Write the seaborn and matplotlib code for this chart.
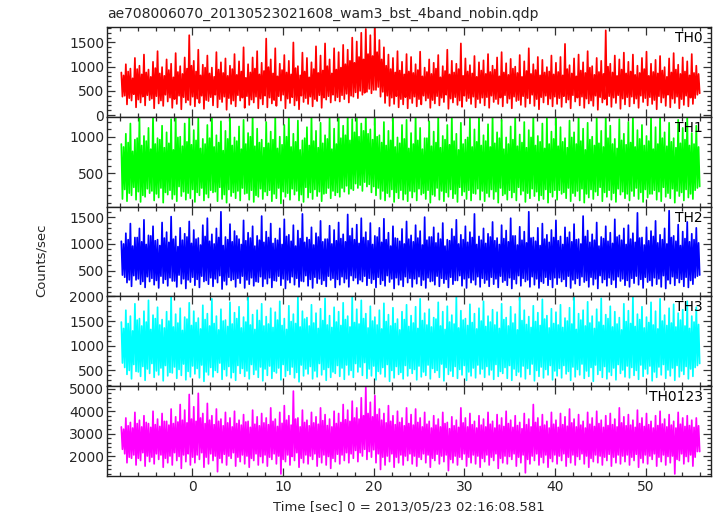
import numpy as np
import pandas as pd
import matplotlib
matplotlib.use("Agg")
import matplotlib.pyplot as plt
from matplotlib.ticker import MultipleLocator
import seaborn as sns

title = "ae708006070_20130523021608_wam3_bst_4band_nobin.qdp"
xlabel = "Time [sec] 0 = 2013/05/23 02:16:08.581"
ylabel = "Counts/sec"
bands = ["TH0", "TH1", "TH2", "TH3", "TH0123"]
colors = ["#ff0000", "#00ff00", "#0000ff", "#00ffff", "#ff00ff"]
t_start = -7.82
t_step = 0.1248

# per 0.5 s: outer high, outer low, inner high, inner low samples of each light curve
th0_hi = [880, 1050, 960, 1180, 1020, 1250, 940, 1100, 1320, 990, 1150, 1060, 1280, 1010, 1190, 1650,
          1120, 1350, 1040, 1230, 980, 1300, 1090, 1170, 1020, 1260, 1110, 1400, 1050, 1190, 1320, 1080,
          1580, 1150, 1380, 1060, 1240, 1120, 1500, 1010, 1290, 1180, 1090, 1420, 1230, 1480, 1150, 1380,
          1300, 1450, 1350, 1600, 1520, 1700, 1780, 1650, 1810, 1550, 1400, 1250, 1180, 1320, 1100, 1260,
          1200, 1050, 1310, 980, 1150, 1080, 1240, 1010, 1350, 1120, 1060, 1480, 1170, 1030, 1220, 1090,
          1130, 1260, 1020, 1190, 1300, 1070, 1160, 1000, 1240, 1110, 1380, 1050, 1200, 1140, 990, 1230,
          1080, 1200, 1470, 1030, 1170, 1250, 1090, 1320, 1010, 1180, 1120, 1750, 1060, 1230, 1150, 1290,
          1100, 1250, 1020, 1180, 1310, 1060, 1140, 1220, 990, 1170, 1280, 1040, 1190, 1110, 1260, 1020]
th0_lo = [380, 220, 300, 160, 260, 200, 310, 140, 240, 190, 280, 150, 230, 120, 260, 210,
          180, 250, 130, 290, 200, 160, 270, 110, 230, 180, 300, 150, 210, 260, 140, 220,
          160, 240, 190, 300, 140, 250, 200, 120, 270, 230, 180, 290, 150, 320, 260, 300,
          280, 330, 260, 380, 350, 420, 480, 450, 520, 380, 250, 190, 230, 160, 220, 140,
          250, 180, 220, 300, 150, 240, 200, 270, 130, 260, 210, 170, 290, 230, 160, 250,
          200, 150, 270, 230, 180, 250, 140, 290, 210, 170, 240, 190, 120, 260, 220, 180,
          230, 170, 260, 140, 280, 200, 150, 240, 190, 110, 260, 210, 170, 250, 130, 220,
          180, 240, 150, 270, 200, 230, 120, 260, 190, 160, 250, 140, 210, 180, 230, 420]
th0_hi2 = [820, 900, 760, 950, 840, 880, 790, 970, 860, 810, 930, 780, 890, 850, 960, 1020,
           900, 820, 980, 860, 790, 940, 870, 810, 950, 830, 900, 770, 880, 960, 840, 910,
           990, 860, 800, 930, 880, 840, 970, 820, 900, 780, 950, 870, 920, 1010, 860, 940,
           980, 1050, 1120, 1080, 1200, 1150, 1260, 1220, 1300, 1150, 1020, 950, 880, 920, 840, 900,
           870, 930, 800, 890, 850, 960, 780, 910, 840, 880, 950, 810, 900, 860, 790, 920,
           850, 890, 940, 800, 880, 830, 960, 870, 790, 910, 850, 930, 820, 880, 900, 840,
           890, 820, 950, 860, 800, 920, 870, 980, 830, 890, 850, 1000, 880, 810, 940, 860,
           900, 830, 870, 950, 810, 890, 860, 920, 790, 880, 940, 850, 900, 820, 870, 850]
th0_lo2 = [400, 350, 430, 320, 380, 410, 340, 390, 300, 420, 360, 330, 400, 370, 310, 380,
           340, 400, 310, 370, 420, 330, 380, 350, 300, 410, 360, 390, 320, 380, 340, 400,
           360, 310, 390, 420, 340, 370, 300, 400, 350, 380, 330, 410, 360, 390, 420, 370,
           410, 440, 400, 470, 500, 460, 540, 520, 580, 480, 400, 360, 390, 330, 370, 340,
           380, 330, 400, 350, 310, 390, 360, 420, 340, 370, 300, 400, 350, 380, 330, 360,
           370, 400, 330, 360, 410, 340, 380, 310, 390, 350, 420, 330, 370, 400, 340, 380,
           350, 390, 320, 410, 360, 380, 340, 300, 400, 370, 330, 390, 360, 410, 340, 370,
           380, 340, 400, 350, 370, 310, 390, 360, 420, 340, 380, 330, 400, 360, 350, 450]

th1_hi = [900, 1040, 1180, 960, 1270, 1010, 1120, 1300, 980, 1150, 1060, 1240, 1290, 1000, 1180, 1300,
          1090, 1250, 970, 1160, 1300, 1020, 1210, 1080, 1300, 990, 1140, 1230, 1050, 1300, 1110, 960,
          1200, 1070, 1280, 1000, 1160, 1300, 1040, 1220, 950, 1130, 1300, 1080, 1190, 1020, 1260, 1110,
          1300, 1150, 1300, 1240, 1300, 1180, 1300, 1100, 1270, 1020, 1200, 1080, 1300, 990, 1160, 1230,
          1050, 1300, 1120, 980, 1210, 1070, 1290, 1010, 1160, 1300, 1040, 1190, 960, 1250, 1100, 1300,
          1020, 1170, 1300, 1060, 1230, 990, 1140, 1280, 1030, 1200, 1090, 1300, 1010, 1180, 1260, 1070,
          1300, 1130, 980, 1220, 1060, 1300, 1110, 1190, 1000, 1270, 1080, 1300, 1150, 970, 1240, 1040,
          1200, 1300, 1090, 1160, 1010, 1250, 1130, 1300, 1060, 1190, 980, 1230, 1120, 1300, 1050, 1150]
th1_lo = [150, 120, 200, 140, 110, 180, 230, 130, 170, 100, 210, 150, 120, 190, 140, 160,
          110, 200, 130, 170, 240, 120, 150, 100, 190, 160, 130, 220, 140, 110, 180, 150,
          200, 120, 160, 90, 180, 140, 210, 130, 110, 170, 150, 190, 120, 230, 160, 200,
          180, 250, 220, 270, 300, 260, 320, 240, 200, 150, 130, 180, 110, 160, 140, 120,
          170, 130, 210, 150, 100, 190, 140, 120, 180, 160, 110, 200, 150, 130, 220, 140,
          120, 180, 150, 100, 200, 140, 170, 130, 210, 110, 160, 190, 130, 150, 100, 180,
          140, 220, 160, 120, 190, 130, 100, 170, 150, 200, 120, 180, 140, 110, 210, 160,
          130, 190, 150, 110, 170, 220, 140, 120, 180, 160, 100, 190, 130, 170, 150, 300]
th1_hi2 = [860, 920, 800, 980, 880, 940, 830, 900, 960, 850, 910, 820, 990, 870, 930, 890,
           950, 840, 900, 980, 860, 920, 810, 970, 880, 940, 830, 900, 1000, 870, 920, 850,
           910, 960, 840, 890, 1000, 860, 930, 820, 980, 880, 940, 850, 910, 970, 830, 900,
           980, 1020, 950, 1060, 1000, 1080, 1040, 960, 1000, 920, 880, 950, 860, 910, 970, 840,
           900, 950, 830, 980, 870, 920, 850, 960, 890, 940, 820, 900, 990, 860, 930, 880,
           940, 860, 910, 980, 830, 900, 960, 870, 920, 850, 990, 880, 930, 840, 900, 970,
           870, 930, 850, 990, 900, 940, 820, 960, 880, 910, 860, 980, 900, 840, 950, 890,
           920, 860, 970, 880, 940, 830, 900, 980, 870, 930, 850, 910, 960, 880, 900, 860]
th1_lo2 = [280, 230, 310, 250, 200, 290, 260, 220, 300, 240, 270, 210, 320, 250, 230, 280,
           240, 300, 220, 270, 250, 310, 210, 280, 240, 260, 300, 230, 270, 200, 290, 250,
           270, 220, 300, 250, 230, 290, 260, 210, 310, 240, 280, 250, 220, 300, 260, 240,
           300, 330, 290, 360, 340, 380, 350, 320, 300, 260, 230, 280, 240, 270, 220, 260,
           250, 290, 230, 270, 210, 300, 260, 240, 280, 220, 310, 250, 270, 230, 290, 260,
           230, 280, 250, 300, 220, 270, 240, 310, 260, 230, 290, 250, 200, 280, 240, 270,
           270, 240, 300, 230, 260, 290, 220, 280, 250, 310, 240, 270, 230, 290, 250, 220,
           260, 300, 240, 280, 220, 270, 250, 310, 230, 290, 260, 240, 280, 220, 270, 320]

th2_hi = [1050, 1200, 1380, 1120, 1290, 1450, 1160, 1330, 1080, 1400, 1220, 1510, 1140, 1300, 1190, 1420,
          1260, 1110, 1350, 1480, 1180, 1290, 1600, 1130, 1370, 1240, 1090, 1440, 1210, 1330, 1150, 1520,
          1230, 1380, 1100, 1290, 1460, 1170, 1350, 1250, 1560, 1120, 1310, 1200, 1430, 1090, 1340, 1260,
          1400, 1180, 1550, 1290, 1360, 1480, 1220, 1390, 1150, 1300, 1470, 1210, 1330, 1100, 1280, 1420,
          1160, 1350, 1240, 1500, 1130, 1310, 1200, 1390, 1080, 1280, 1450, 1170, 1330, 1220, 1560, 1140,
          1290, 1190, 1410, 1110, 1350, 1250, 1480, 1150, 1320, 1230, 1600, 1120, 1300, 1380, 1170, 1260,
          1440, 1140, 1310, 1220, 1370, 1090, 1520, 1250, 1180, 1400, 1130, 1330, 1210, 1460, 1160, 1290,
          1350, 1200, 1580, 1120, 1310, 1240, 1430, 1170, 1290, 1620, 1150, 1360, 1230, 1410, 1190, 1300]
th2_lo = [420, 280, 210, 330, 250, 190, 300, 240, 180, 270, 220, 310, 200, 260, 170, 290,
          230, 190, 300, 250, 210, 280, 160, 240, 320, 200, 270, 180, 250, 220, 290, 210,
          260, 190, 310, 230, 170, 280, 240, 200, 300, 220, 180, 270, 250, 210, 330, 190,
          240, 280, 200, 320, 260, 300, 230, 270, 190, 250, 220, 290, 170, 240, 210, 280,
          200, 260, 230, 180, 300, 240, 210, 270, 190, 250, 320, 220, 180, 280, 240, 200,
          270, 210, 250, 190, 290, 230, 170, 260, 220, 300, 200, 240, 180, 270, 230, 190,
          250, 300, 210, 180, 260, 230, 290, 200, 240, 170, 280, 220, 250, 190, 310, 230,
          200, 270, 240, 180, 290, 220, 250, 200, 170, 260, 230, 280, 210, 190, 250, 400]
th2_hi2 = [1000, 1080, 960, 1120, 1040, 990, 1150, 1060, 970, 1110, 1030, 1090, 950, 1070, 1130, 1010,
           1090, 980, 1140, 1050, 1000, 1120, 970, 1080, 1040, 1150, 990, 1060, 1110, 960, 1070, 1030,
           1120, 1010, 1070, 990, 1140, 1050, 960, 1100, 1030, 1080, 980, 1130, 1040, 1090, 1000, 1060,
           1100, 1040, 1150, 1080, 1010, 1120, 1060, 990, 1130, 1030, 1080, 960, 1110, 1050, 1000, 1090,
           1040, 1110, 980, 1070, 1130, 1020, 1090, 960, 1060, 1140, 1000, 1080, 1030, 1120, 990, 1070,
           1010, 1130, 1060, 990, 1100, 1040, 1150, 980, 1070, 1020, 1110, 1050, 970, 1090, 1030, 1120,
           1060, 990, 1120, 1040, 1080, 1000, 1140, 1030, 1070, 960, 1100, 1050, 1010, 1130, 1070, 990,
           1090, 1030, 1110, 980, 1060, 1140, 1020, 1080, 1000, 1120, 1050, 970, 1100, 1040, 1080, 1020]
th2_lo2 = [380, 330, 410, 350, 300, 390, 360, 320, 400, 340, 370, 310, 420, 350, 330, 380,
           340, 400, 320, 370, 350, 410, 310, 380, 340, 360, 400, 330, 370, 300, 390, 350,
           370, 320, 400, 350, 330, 390, 360, 310, 410, 340, 380, 350, 320, 400, 360, 340,
           390, 350, 410, 370, 330, 400, 360, 340, 380, 320, 410, 350, 370, 330, 390, 360,
           350, 390, 330, 370, 310, 400, 360, 340, 380, 320, 410, 350, 370, 330, 390, 360,
           330, 380, 350, 400, 320, 370, 340, 410, 360, 330, 390, 350, 300, 380, 340, 370,
           370, 340, 400, 330, 360, 390, 320, 380, 350, 410, 340, 370, 330, 390, 350, 320,
           360, 400, 340, 380, 320, 370, 350, 410, 330, 390, 360, 340, 380, 320, 370, 420]

th3_hi = [1480, 1720, 1600, 1850, 1550, 1700, 1920, 1620, 1780, 1530, 1690, 2000, 1640, 1760, 1580, 1870,
          1700, 1560, 1820, 1650, 1950, 1600, 1740, 1520, 1880, 1670, 1790, 1580, 2000, 1630, 1720, 1850,
          1590, 1760, 1680, 1900, 1550, 1810, 1640, 2000, 1700, 1570, 1830, 1660, 1750, 1960, 1610, 1780,
          1690, 1870, 1600, 2000, 1740, 1920, 1650, 1800, 1580, 1720, 1860, 1630, 1770, 1540, 1690, 1830,
          1610, 1790, 1950, 1660, 1740, 1570, 1880, 1690, 1800, 1620, 2000, 1710, 1550, 1840, 1650, 1760,
          1900, 1600, 1730, 1680, 1850, 1570, 1790, 1640, 2000, 1720, 1590, 1810, 1670, 1940, 1610, 1750,
          1680, 1830, 1560, 1770, 2000, 1650, 1720, 1890, 1600, 1740, 1960, 1630, 1800, 1690, 1570, 1850,
          1710, 2000, 1640, 1790, 1580, 1880, 1700, 1950, 1620, 1760, 1840, 1660, 1730, 1900, 1600, 1780]
th3_lo = [650, 420, 330, 480, 380, 300, 440, 360, 410, 290, 390, 450, 340, 400, 310, 370,
          430, 350, 280, 410, 370, 460, 320, 390, 350, 300, 440, 380, 330, 420, 360, 290,
          400, 340, 450, 310, 380, 420, 350, 270, 390, 430, 330, 370, 410, 300, 360, 440,
          380, 320, 410, 360, 470, 400, 340, 390, 310, 430, 370, 280, 350, 420, 330, 390,
          440, 310, 370, 400, 330, 460, 360, 290, 420, 380, 340, 410, 300, 390, 350, 430,
          360, 410, 320, 380, 440, 340, 300, 400, 370, 330, 420, 290, 380, 350, 410, 310,
          390, 350, 430, 300, 370, 410, 340, 380, 280, 420, 360, 330, 400, 310, 440, 370,
          350, 400, 320, 380, 430, 290, 360, 410, 340, 390, 300, 370, 420, 330, 380, 600]
th3_hi2 = [1350, 1450, 1300, 1520, 1400, 1480, 1330, 1550, 1420, 1360, 1500, 1380, 1460, 1310, 1540, 1410,
           1470, 1340, 1530, 1400, 1450, 1320, 1500, 1390, 1440, 1550, 1360, 1480, 1420, 1330, 1510, 1400,
           1440, 1370, 1520, 1410, 1330, 1490, 1450, 1380, 1540, 1400, 1460, 1350, 1510, 1420, 1370, 1480,
           1410, 1530, 1380, 1470, 1440, 1550, 1360, 1500, 1420, 1340, 1490, 1400, 1450, 1320, 1530, 1390,
           1460, 1350, 1510, 1420, 1380, 1540, 1400, 1330, 1480, 1440, 1360, 1520, 1410, 1470, 1340, 1500,
           1390, 1480, 1420, 1350, 1530, 1400, 1460, 1320, 1510, 1430, 1370, 1490, 1410, 1540, 1360, 1450,
           1420, 1370, 1500, 1440, 1330, 1520, 1400, 1460, 1350, 1480, 1410, 1550, 1380, 1440, 1320, 1490,
           1450, 1390, 1530, 1360, 1470, 1420, 1340, 1500, 1410, 1460, 1380, 1520, 1400, 1350, 1480, 1430]
th3_lo2 = [560, 500, 620, 470, 580, 530, 640, 490, 550, 600, 460, 570, 520, 630, 480, 590,
           540, 610, 470, 560, 500, 650, 520, 580, 460, 600, 540, 490, 620, 510, 570, 530,
           590, 480, 550, 620, 500, 570, 460, 610, 530, 580, 490, 640, 520, 560, 470, 600,
           550, 610, 500, 640, 570, 660, 530, 590, 480, 560, 620, 500, 580, 460, 600, 540,
           520, 590, 470, 610, 540, 500, 630, 560, 490, 580, 520, 600, 470, 550, 610, 530,
           580, 510, 620, 480, 560, 600, 530, 470, 590, 540, 630, 500, 570, 520, 600, 490,
           540, 600, 480, 570, 520, 630, 490, 560, 610, 500, 580, 470, 550, 620, 510, 590,
           560, 500, 610, 530, 590, 470, 570, 620, 510, 550, 600, 490, 580, 530, 560, 640]

th0123_hi = [3300, 3700, 3500, 3950, 3600, 3800, 3450, 4000, 3650, 3900, 3550, 4100, 3750, 4300, 4050, 4750,
             4200, 4800, 3900, 4350, 3800, 4100, 3650, 3950, 3700, 4000, 3600, 3850, 3550, 4050, 3750, 3900,
             3700, 4150, 3650, 3950, 4250, 3800, 4900, 3700, 4050, 3600, 3950, 3750, 4150, 3850, 3650, 4000,
             3900, 4300, 4050, 4450, 4150, 4600, 5080, 4400, 4700, 4100, 3900, 4250, 3800, 4000, 3700, 4150,
             3850, 4100, 3700, 3950, 3550, 3800, 3650, 3950, 3500, 3750, 3600, 4150, 3700, 3900, 3550, 3800,
             3650, 3950, 3550, 3850, 3700, 4000, 3600, 3800, 3500, 3900, 3650, 4300, 3700, 3850, 3550, 3950,
             3600, 3900, 3750, 4100, 3650, 3850, 3550, 3950, 3700, 4000, 3600, 3800, 3900, 3650, 4150, 3750,
             3850, 3600, 4050, 3700, 3900, 3550, 3800, 4000, 3650, 3850, 3550, 3950, 3700, 3800, 3600, 3700]
th0123_lo = [2300, 1700, 1900, 1600, 1800, 1550, 1750, 1650, 1850, 1500, 1700, 1600, 1800, 1450, 1750, 1600,
             1700, 1850, 1500, 1650, 1800, 1300, 1700, 1600, 1900, 1550, 1750, 1650, 1500, 1800, 1600, 1700,
             1550, 1850, 1650, 1200, 1750, 1600, 1800, 1500, 1700, 1650, 1850, 1550, 1700, 1600, 1450, 1750,
             1650, 1800, 1700, 1900, 1750, 2000, 1850, 1950, 1700, 1400, 1600, 1750, 1500, 1700, 1600, 1800,
             1650, 1550, 1850, 1700, 1500, 1800, 1650, 1750, 1350, 1700, 1600, 1850, 1550, 1700, 1650, 1500,
             1750, 1600, 1800, 1450, 1700, 1650, 1850, 1550, 1700, 1250, 1650, 1800, 1600, 1700, 1500, 1750,
             1650, 1800, 1550, 1700, 1600, 1850, 1650, 1500, 1750, 1700, 1600, 1800, 1550, 1700, 1650, 1750,
             1600, 1800, 1500, 1700, 1650, 1850, 1550, 1750, 1600, 1700, 1200, 1800, 1650, 1750, 1550, 2200]
th0123_hi2 = [3200, 3350, 3250, 3450, 3300, 3500, 3280, 3400, 3320, 3550, 3380, 3450, 3520, 3600, 3480, 3650,
              3550, 3700, 3450, 3600, 3400, 3550, 3350, 3480, 3300, 3450, 3380, 3520, 3280, 3420, 3350, 3480,
              3400, 3550, 3320, 3460, 3600, 3380, 3650, 3300, 3500, 3350, 3480, 3420, 3580, 3360, 3300, 3450,
              3500, 3620, 3550, 3700, 3650, 3800, 3900, 3750, 3850, 3600, 3480, 3550, 3400, 3500, 3350, 3450,
              3380, 3500, 3300, 3420, 3250, 3380, 3300, 3450, 3220, 3350, 3280, 3480, 3300, 3400, 3250, 3380,
              3300, 3420, 3250, 3380, 3320, 3450, 3280, 3360, 3220, 3400, 3300, 3500, 3320, 3380, 3250, 3420,
              3280, 3400, 3330, 3480, 3300, 3380, 3250, 3420, 3320, 3450, 3280, 3360, 3400, 3300, 3480, 3350,
              3380, 3280, 3450, 3320, 3400, 3250, 3360, 3430, 3300, 3380, 3250, 3420, 3320, 3360, 3280, 3350]
th0123_lo2 = [2100, 1950, 2050, 1900, 2150, 2000, 1950, 2100, 2050, 1900, 2000, 2150, 1980, 2050, 2100, 1950,
              2050, 2150, 1950, 2100, 2000, 1900, 2080, 2000, 2150, 1950, 2050, 2000, 1900, 2100, 1980, 2050,
              1950, 2100, 2000, 1850, 2050, 1980, 2150, 1900, 2050, 2000, 2100, 1950, 2050, 1980, 1900, 2080,
              2050, 2150, 2100, 2250, 2150, 2300, 2200, 2280, 2100, 1950, 2000, 2100, 1950, 2050, 2000, 2100,
              2000, 1950, 2100, 2050, 1900, 2080, 2000, 2050, 1850, 2000, 1950, 2100, 1950, 2050, 2000, 1900,
              2050, 1950, 2100, 1900, 2000, 1980, 2100, 1950, 2050, 1850, 2000, 2100, 1950, 2050, 1900, 2050,
              2000, 2100, 1950, 2050, 1980, 2100, 2000, 1900, 2050, 2000, 1950, 2080, 1950, 2050, 2000, 2050,
              1950, 2080, 1900, 2050, 2000, 2100, 1950, 2050, 1980, 2000, 1850, 2100, 1980, 2050, 1950, 2200]

series = [(th0_hi, th0_lo, th0_hi2, th0_lo2),
          (th1_hi, th1_lo, th1_hi2, th1_lo2),
          (th2_hi, th2_lo, th2_hi2, th2_lo2),
          (th3_hi, th3_lo, th3_hi2, th3_lo2),
          (th0123_hi, th0123_lo, th0123_hi2, th0123_lo2)]
ylims = [(-36, 1820), (46, 1272), (22, 1697), (180, 2000), (1107, 5120)]
ymajor = [500, 500, 500, 500, 1000]
yminor = [100, 100, 100, 100, 200]

sns.set_style("ticks")
plt.rcParams["font.family"] = ["DejaVu Sans"]
plt.rcParams["font.size"] = 9.5

fig = plt.figure(figsize=(7.17, 5.16), dpi=100)
axes = fig.subplots(5, 1, sharex=True, gridspec_kw=dict(hspace=0))
fig.subplots_adjust(left=107/717, right=711/717, top=1-27/516, bottom=1-476/516)

for i, ax in enumerate(axes):
    hi, lo, hi2, lo2 = series[i]
    vals = np.empty(4 * len(hi))
    vals[0::4] = hi
    vals[1::4] = lo
    vals[2::4] = hi2
    vals[3::4] = lo2
    t = t_start + t_step * np.arange(len(vals))
    df = pd.DataFrame({"t": t, "rate": vals})
    sns.lineplot(data=df, x="t", y="rate", ax=ax, color=colors[i],
                 linewidth=1.25, estimator=None, sort=False)
    ax.set_ylim(*ylims[i])
    ax.set_xlim(-9.4, 57.2)
    ax.set_xlabel("")
    ax.set_ylabel("")
    ax.xaxis.set_major_locator(MultipleLocator(10))
    ax.xaxis.set_minor_locator(MultipleLocator(2))
    ax.yaxis.set_major_locator(MultipleLocator(ymajor[i]))
    ax.yaxis.set_minor_locator(MultipleLocator(yminor[i]))
    ax.tick_params(which="both", direction="in", top=True, right=True,
                   color="#333333", width=0.9, labelsize=10)
    ax.tick_params(which="major", length=6, pad=2)
    ax.tick_params(which="minor", length=3)
    for s in ax.spines.values():
        s.set_color("#222222")
        s.set_linewidth(1.0)
    ax.text(0.986, 0.955, bands[i], transform=ax.transAxes, ha="right", va="top",
            fontsize=10, color="black")
    if i < 4:
        ax.tick_params(labelbottom=False)

axes[-1].tick_params(axis="x", which="major", pad=3)
fig.text(107/717, 1-14/516, title, ha="left", va="center", fontsize=10)
fig.text(409/717, 1-507/516, xlabel, ha="center", va="center", fontsize=9.5)
fig.text(41/717, 1-260/516, ylabel, ha="center", va="center", rotation=90, fontsize=9.5)

fig.savefig("out.png", dpi=100)
